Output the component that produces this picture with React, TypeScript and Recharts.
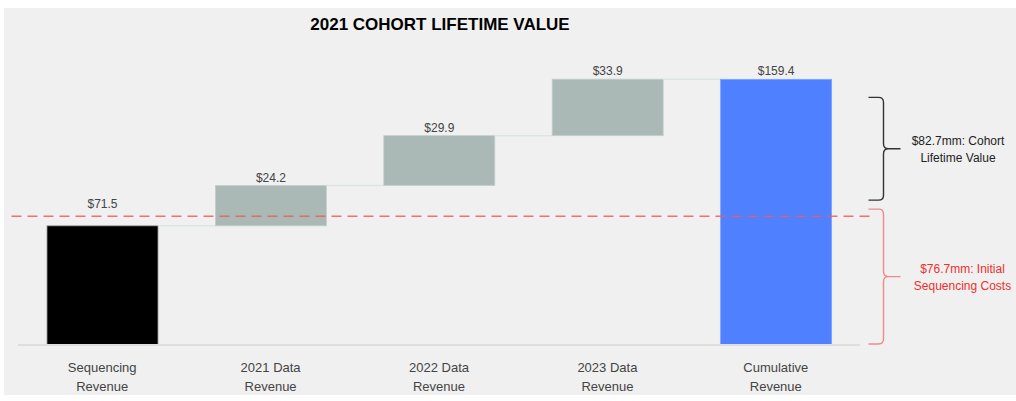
import React from "react";
import {
  BarChart, Bar, XAxis, YAxis, LabelList, ReferenceLine, ReferenceArea,
} from "recharts";

// 2021 cohort waterfall, $mm
const categories = [
  "Sequencing Revenue",
  "2021 Data Revenue",
  "2022 Data Revenue",
  "2023 Data Revenue",
  "Cumulative Revenue",
];
const values = [71.5, 24.2, 29.9, 33.9, 159.4];
const kinds = ["start", "step", "step", "step", "total"];
const initialCost = 76.7;
const lifetimeValue = 82.7;
const yTicks = [0, 180];

const W = 1012;
const H = 387;
const M = { top: 37, right: 156, left: 14, bottom: 0 };
const BAR = 111;
const SLOT = (W - M.left - M.right) / categories.length;

const FONT = "'Liberation Sans', Arial, sans-serif";
const COLORS: Record<string, string> = { start: "#000000", step: "#aab9b5", total: "#4f80ff" };
const STROKES: Record<string, string> = { start: "#9a9a9a", step: "#c3cfcc", total: "#7ea2ff" };

// build the floating bars from the running total
let running = 0;
const data = categories.map((name, i) => {
  const kind = kinds[i];
  const base = kind === "step" ? running : 0;
  if (kind === "start") running = values[i];
  else if (kind === "step") running += values[i];
  return { name, base, value: values[i], kind };
});

const WaterfallBar = (props: any) => {
  const { x, y, width, height, index, payload } = props;
  return (
    <g>
      <rect x={x} y={y} width={width} height={height} fill={COLORS[payload.kind]}
        stroke={STROKES[payload.kind]} strokeWidth={0.8} />
      {index < categories.length - 1 && (
        <line x1={x + width} x2={x + width + (SLOT - width)} y1={y} y2={y}
          stroke="#dde5e4" strokeWidth={1.5} />
      )}
    </g>
  );
};

const ValueLabel = (props: any) => {
  const { x, y, width, value, index } = props;
  // first label sits above the cost line
  const lift = index === 0 ? 14 : 0;
  return (
    <text x={x + width / 2} y={y - 4 - lift} textAnchor="middle" fontSize={12}
      fontFamily={FONT} fill="#444">
      ${value}
    </text>
  );
};

const CategoryTick = (props: any) => {
  const { x, y, payload } = props;
  const s = String(payload.value);
  const cut = s.lastIndexOf(" ");
  const lines = [s.slice(0, cut), s.slice(cut + 1)];
  return (
    <text x={x} y={y} textAnchor="middle" fontSize={13} fontFamily={FONT} fill="#444">
      {lines.map((l, i) => (
        <tspan key={i} x={x} dy={i === 0 ? 19 : 19}>{l}</tspan>
      ))}
    </text>
  );
};

const bracePath = (x0: number, xv: number, xt: number, yt: number, yb: number) => {
  const r = 5;
  const ym = (yt + yb) / 2;
  return `M${x0},${yt} H${xv - r} Q${xv},${yt} ${xv},${yt + r} V${ym - r} Q${xv},${ym} ${xv + r},${ym} H${xt}` +
    ` M${xv + r},${ym} Q${xv},${ym} ${xv},${ym + r} V${yb - r} Q${xv},${yb} ${xv - r},${yb} H${x0}`;
};

const Brace = (props: any) => {
  const { x, y, width, height, color, textColor, lines, top, bottom, textDx } = props;
  const r = x + width;
  const yt = y + top;
  const yb = y + height - bottom;
  const ym = (yt + yb) / 2;
  return (
    <g>
      <path d={bracePath(r + 8.5, r + 23.5, r + 40.5, yt, yb)} fill="none" stroke={color} strokeWidth={1.4} />
      <text x={r + textDx} y={ym} textAnchor="middle" fontSize={12} fontFamily={FONT} fill={textColor}>
        <tspan x={r + textDx} dy={-4}>{lines[0]}</tspan>
        <tspan x={r + textDx} dy={17}>{lines[1]}</tspan>
      </text>
    </g>
  );
};

const CostLine = (props: any) => {
  const { x1, x2, y1 } = props;
  return (
    <line x1={x1 - 6.5} x2={x2 + 10.5} y1={y1 - 1} y2={y1 - 1} stroke="#f25a5a" strokeOpacity={0.85}
      strokeWidth={1.5} strokeDasharray="10 6" />
  );
};

export default function App() {
  const total = values[values.length - 1];
  return (
    <div style={{
      position: "absolute", left: 4, top: 8, width: W, height: H, background: "#f0f0f0",
      overflow: "hidden",
    }}>
      <div style={{
        position: "absolute", top: 7, left: 236, width: 400, textAlign: "center",
        fontFamily: "'Liberation Sans Narrow', 'Liberation Sans', sans-serif", fontWeight: 700,
        fontSize: 17, lineHeight: "20px", color: "#000",
      }}>
        2021 COHORT LIFETIME VALUE
      </div>
      <BarChart width={W} height={H} data={data} margin={M} barSize={BAR}>
        <XAxis dataKey="name" interval={0} tickLine={false} height={50}
          axisLine={{ stroke: "#dedede", strokeWidth: 2 }} tick={<CategoryTick />} />
        <YAxis hide domain={[yTicks[0], yTicks[1]]} ticks={yTicks} />
        <Bar dataKey="base" stackId="w" fill="transparent" isAnimationActive={false} />
        <Bar dataKey="value" stackId="w" shape={<WaterfallBar />} isAnimationActive={false}>
          <LabelList dataKey="value" content={<ValueLabel />} />
        </Bar>
        <ReferenceLine y={initialCost} shape={<CostLine />} />
        <ReferenceArea y1={initialCost} y2={total} ifOverflow="visible"
          shape={<Brace color="#333" textColor="#222" top={18} bottom={17} textDx={98}
            lines={[`$${lifetimeValue}mm: Cohort`, "Lifetime Value"]} />} />
        <ReferenceArea y1={0} y2={initialCost} ifOverflow="visible"
          shape={<Brace color="#f08a8a" textColor="#f02d2d" top={-8} bottom={1} textDx={102.5}
            lines={[`$${initialCost}mm: Initial`, "Sequencing Costs"]} />} />
      </BarChart>
    </div>
  );
}
